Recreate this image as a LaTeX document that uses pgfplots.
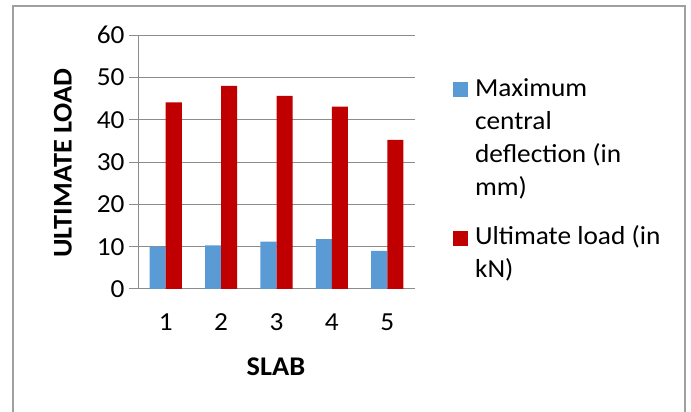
\documentclass[border=0pt]{standalone}
\usepackage{pgfplots}
\pgfplotsset{compat=1.18}
\usepackage{fontspec}
\setmainfont{Carlito}[FakeStretch=1.05]
\definecolor{xlblue}{HTML}{5B9BD5}
\definecolor{xlred}{HTML}{C00000}
\definecolor{gridgray}{HTML}{8C8C8C}
\definecolor{framegray}{HTML}{A0A0A0}
\begin{document}
\begin{tikzpicture}
\path[use as bounding box] (0,0) rectangle (691bp,412bp);
\draw[framegray, line width=1.2bp] (13bp,-5bp) -- (13bp,406bp) -- (685bp,406bp) -- (685bp,-5bp);
\begin{axis}[
  at={(138bp,123bp)}, anchor=south west,
  scale only axis, width=277bp, height=254bp,
  ybar=0pt, bar width=0.29,
  xmin=0.5, xmax=5.5, ymin=0, ymax=60,
  xtick={1,2,3,4,5},
  ytick={0,10,20,30,40,50,60},
  axis x line=bottom, axis y line=left,
  axis line style={draw=gridgray, line width=1bp, -},
  ymajorgrids, grid style={draw=gridgray, line width=1bp},
  tick align=outside, major tick length=9bp,
  xtick style={draw=none},
  ytick style={draw=gridgray, line width=1bp},
  tick label style={font=\fontsize{26bp}{30bp}\selectfont, text=black},
  /pgf/number format/assume math mode=true,
  yticklabel style={xshift=-1bp},
  xticklabel style={yshift=-12bp},
  xlabel={\textbf{SLAB}},
  ylabel={\textbf{ULTIMATE LOAD}},
  label style={font=\fontsize{27bp}{30bp}\selectfont},
  xlabel style={at={(axis description cs:0.498,-0.307)}, anchor=center},
  ylabel style={at={(axis description cs:-0.271,0.496)}, anchor=center},
  legend style={draw=none, fill=none, at={(axis description cs:1.126,0.838)}, anchor=north west,
    font=\fontsize{26bp}{33bp}\selectfont,
    nodes={align=left, inner sep=0pt, anchor=base west}},
  legend cell align=left,
]
\addplot[fill=xlblue, draw=none,
  legend image code/.code={\fill[xlblue] (0bp,98bp) rectangle (15bp,113bp); \path[draw=none,fill=none] (0,0) -- (22bp,0);}]
  coordinates {(1,10) (2,10.3) (3,11.2) (4,11.8) (5,9.0)};
\addplot[fill=xlred, draw=none,
  legend image code/.code={\fill[xlred] (0bp,32bp) rectangle (15bp,47bp); \path[draw=none,fill=none] (0,0) -- (22bp,0);}]
  coordinates {(1,44.1) (2,48.0) (3,45.6) (4,43.1) (5,35.2)};
\addlegendentry{Maximum\\central\\deflection (in\\mm)}
\addlegendentry{\rule{0pt}{48bp}Ultimate load (in\\kN)}
\end{axis}
\end{tikzpicture}
\end{document}
